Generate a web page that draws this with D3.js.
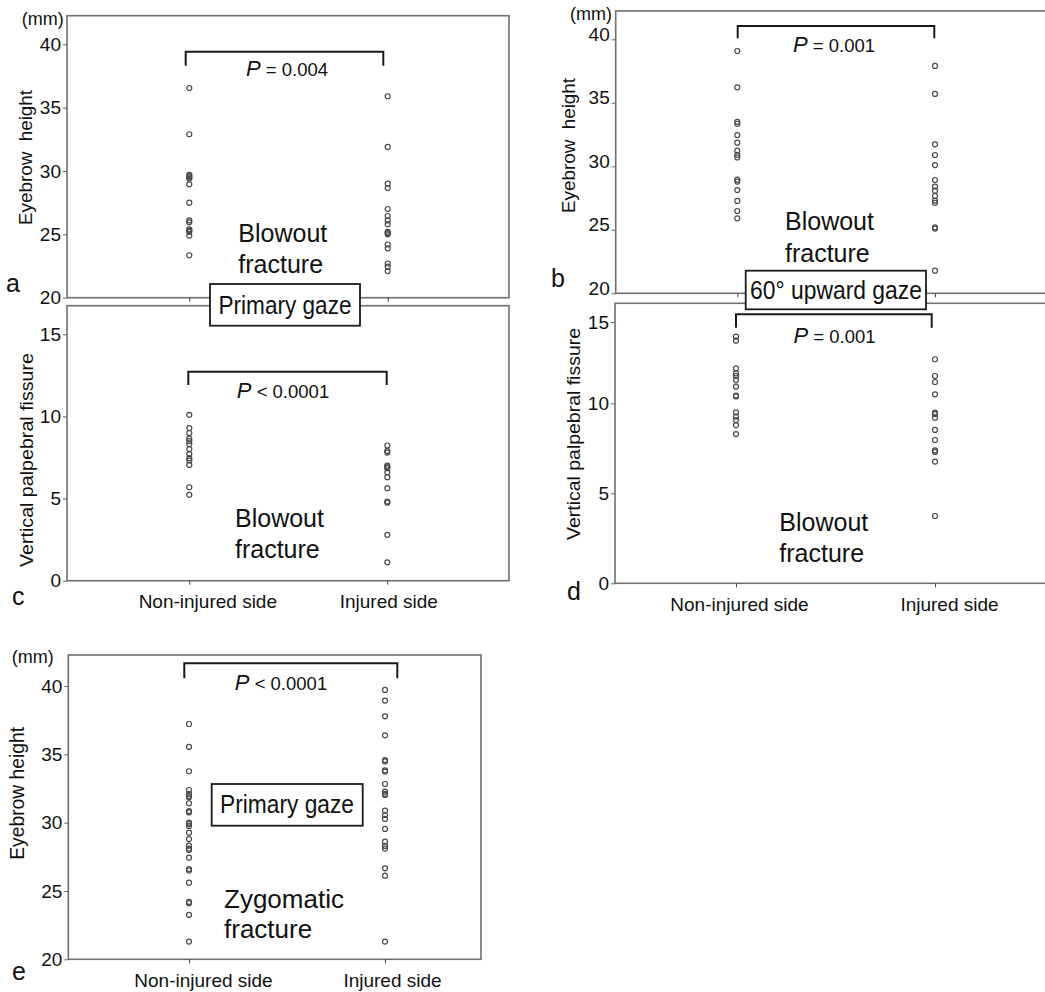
<!DOCTYPE html>
<html><head><meta charset="utf-8">
<script src="https://cdn.jsdelivr.net/npm/d3@7/dist/d3.min.js"></script>
<style>
body{margin:0;background:#fff}
text{font-family:"Liberation Sans",Arial,sans-serif;fill:#111}
</style>
</head><body>
<svg id="chart" width="1045" height="992"></svg>
<script>
// ---------- data ----------
const categories = ["Non-injured side", "Injured side"];
const eyebrowTicks = [20, 25, 30, 35, 40];
const fissureTicks = [0, 5, 10, 15];

const aNonInjured = [36.55, 32.9, 29.7, 29.6, 29.5, 29.4, 28.95, 27.5, 26.1, 25.95, 25.4, 25.3, 25.2, 24.9, 23.35];
const aInjured    = [35.9, 31.9, 29.0, 28.65, 27.0, 26.45, 26.1, 25.8, 25.2, 25.1, 25.0, 24.2, 23.9, 22.7, 22.45, 22.1];
const bNonInjured = [39.08, 36.22, 33.5, 33.35, 32.46, 31.86, 31.23, 30.9, 30.7, 28.95, 28.8, 28.13, 27.27, 26.48, 25.9];
const bInjured    = [37.9, 35.7, 31.73, 30.89, 30.1, 28.92, 28.4, 28.08, 27.66, 27.3, 27.13, 25.2, 25.1, 21.78];
const cNonInjured = [10.1, 9.29, 8.99, 8.65, 8.5, 8.32, 8.01, 7.71, 7.46, 7.32, 7.05, 5.69, 5.23];
const cInjured    = [8.23, 7.9, 7.8, 7.0, 6.92, 6.85, 6.6, 6.3, 5.63, 4.82, 4.75, 2.79, 1.12];
const dNonInjured = [14.1, 13.85, 12.15, 11.84, 11.68, 11.43, 11.02, 10.48, 10.42, 9.5, 9.26, 9.07, 8.79, 8.29];
const dInjured    = [12.71, 11.68, 11.31, 10.55, 9.48, 9.4, 9.2, 8.52, 7.96, 7.38, 7.3, 6.76, 3.74];
const eNonInjured = [37.22, 35.54, 33.76, 32.39, 32.1, 31.95, 31.85, 31.42, 30.85, 30.75, 30.0, 29.9, 29.76, 29.27, 28.8, 28.32, 28.1, 28.0, 27.44, 26.6, 26.5, 25.61, 24.2, 24.1, 23.25, 21.3];
const eInjured    = [39.71, 38.93, 37.78, 36.39, 34.58, 34.48, 33.82, 33.74, 32.83, 32.27, 32.1, 32.03, 30.88, 30.56, 30.27, 29.54, 28.61, 28.3, 28.1, 26.66, 26.12, 21.3];

const pLabels = ["= 0.004", "= 0.001", "< 0.0001", "= 0.001", "< 0.0001"];

// ---------- layout ----------
const svg = d3.select("#chart");
svg.append("rect").attr("width", 1045).attr("height", 992).attr("fill", "#fff");

const panels = [
  { id: "a", series: [aNonInjured, aInjured], ticks: eyebrowTicks, yd: [20, 40], yr: [297.7, 44.3],
    fx: [67, 509], fy: [15.7, 297.7], xr: [189.3, 387.7], xlab: false, tickDy: 0,
    title: "Eyebrow  height", tc: [25, 157.5], tl: 135, tfs: 19, mm: [21.7, 25],
    br: { x: [185.7, 383.3], y: 51.7, leg: 65.7 }, p: { x: 287, y: 76, t: pLabels[0] },
    note: { x: 238.3, y: [241.7, 272.7], t: ["Blowout", "fracture"], fs: 25 },
    letter: { t: "a", x: 6, y: 291.5 } },
  { id: "b", series: [bNonInjured, bInjured], ticks: eyebrowTicks, yd: [20, 40], yr: [293.3, 39.3],
    fx: [615.7, 1046], fy: [11, 293.3], xr: [737.3, 935], xlab: false, tickDy: -5,
    title: "Eyebrow  height", tc: [568, 145.5], tl: 135, tfs: 19, mm: [570, 20],
    br: { x: [737.7, 934.3], y: 26, leg: 38.3 }, p: { x: 834, y: 51.7, t: pLabels[1] },
    note: { x: 785, y: [230, 261.7], t: ["Blowout", "fracture"], fs: 25 },
    letter: { t: "b", x: 551, y: 286.5 } },
  { id: "c", series: [cNonInjured, cInjured], ticks: fissureTicks, yd: [0, 15], yr: [580.7, 334.3],
    fx: [67, 509], fy: [305.7, 580.7], xr: [189.3, 387.3], xlab: true, xdx: [18, 1], tickDy: 0,
    title: "Vertical palpebral fissure", tc: [26.7, 460], tl: 214, tfs: 19,
    br: { x: [188.3, 386.7], y: 371.7, leg: 385 }, p: { x: 283, y: 398.3, t: pLabels[2] },
    note: { x: 235, y: [526.7, 557.7], t: ["Blowout", "fracture"], fs: 25 },
    letter: { t: "c", x: 12, y: 605 } },
  { id: "d", series: [dNonInjured, dInjured], ticks: fissureTicks, yd: [0, 10, 15], yr: [583.3, 403.3, 322],
    fx: [615, 1046], fy: [303.3, 583.3], xr: [736, 935], xlab: true, xdx: [3, 14], tickDy: 0,
    title: "Vertical palpebral fissure", tc: [573, 434], tl: 212, tfs: 19,
    br: { x: [736, 931.7], y: 314.3, leg: 327.7 }, p: { x: 834.5, y: 343.3, t: pLabels[3] },
    note: { x: 779.3, y: [530.7, 561.7], t: ["Blowout", "fracture"], fs: 25 },
    letter: { t: "d", x: 567, y: 600 } },
  { id: "e", series: [eNonInjured, eInjured], ticks: eyebrowTicks, yd: [20, 40], yr: [959.3, 686],
    fx: [68.3, 481], fy: [655, 959.3], xr: [189, 385], xlab: true, xdx: [14, 7], tickDy: 0,
    title: "Eyebrow height", tc: [17.3, 793.3], tl: 133, tfs: 20, mm: [11.7, 663.3],
    br: { x: [184.3, 397.3], y: 663.3, leg: 678.3 }, p: { x: 281, y: 690, t: pLabels[4] },
    note: { x: 224, y: [908.3, 938.3], t: ["Zygomatic", "fracture"], fs: 26 },
    letter: { t: "e", x: 12, y: 980 } }
];

function drawPanel(p) {
  const g = svg.append("g").attr("class", "panel-" + p.id);
  const x = d3.scalePoint().domain(categories).range(p.xr);
  const y = d3.scaleLinear().domain(p.yd).range(p.yr);

  // frame
  g.append("rect")
    .attr("x", p.fx[0]).attr("y", p.fy[0])
    .attr("width", p.fx[1] - p.fx[0]).attr("height", p.fy[1] - p.fy[0])
    .attr("fill", "none").attr("stroke", "#6f6f6f").attr("stroke-width", 1.6);

  // y axis
  const ya = g.append("g").attr("transform", `translate(${p.fx[0]},0)`)
    .call(d3.axisLeft(y).tickValues(p.ticks).tickSize(4).tickPadding(2).tickFormat(d3.format("d")));
  ya.select(".domain").remove();
  ya.selectAll(".tick line").attr("stroke", "#666");
  ya.selectAll(".tick text").attr("font-size", 19).attr("fill", "#111")
    .attr("font-family", "Liberation Sans, Arial, sans-serif")
    .attr("transform", `translate(0,${p.tickDy})`);

  // x axis
  const xa = g.append("g").attr("transform", `translate(0,${p.fy[1]})`)
    .call(d3.axisBottom(x).tickSize(4).tickPadding(10).tickFormat(p.xlab ? (d => d) : () => ""));
  xa.select(".domain").remove();
  xa.selectAll(".tick line").attr("stroke", "#444");
  xa.selectAll(".tick text").attr("font-size", 19).attr("fill", "#111")
    .attr("font-family", "Liberation Sans, Arial, sans-serif")
    .attr("dx", (d, i) => p.xdx ? p.xdx[i] : 0);

  // y title
  g.append("text")
    .attr("transform", `translate(${p.tc[0]},${p.tc[1]}) rotate(-90)`)
    .attr("text-anchor", "middle").attr("dy", "0.35em")
    .attr("font-size", p.tfs)
    .attr("textLength", p.tl).attr("lengthAdjust", "spacingAndGlyphs")
    .style("white-space", "pre")
    .text(p.title);

  if (p.mm) {
    g.append("text").attr("x", p.mm[0]).attr("y", p.mm[1]).attr("font-size", 18).text("(mm)");
  }

  // points
  p.series.forEach((vals, i) => {
    g.append("g").selectAll("circle").data(vals).join("circle")
      .attr("cx", x(categories[i]))
      .attr("cy", d => y(d))
      .attr("r", 2.5)
      .attr("fill", "none")
      .attr("stroke", "#4a4a4a")
      .attr("stroke-width", 1.2);
  });

  // bracket
  g.append("path")
    .attr("d", `M${p.br.x[0]},${p.br.leg}V${p.br.y}H${p.br.x[1]}V${p.br.leg}`)
    .attr("fill", "none").attr("stroke", "#1a1a1a").attr("stroke-width", 2);
  const pt = g.append("text").attr("x", p.p.x).attr("y", p.p.y).attr("text-anchor", "middle");
  pt.append("tspan").attr("font-style", "italic").attr("font-size", 22).text("P");
  pt.append("tspan").attr("font-size", 18.5).text(" " + p.p.t);

  // note text
  p.note.t.forEach((t, i) => {
    g.append("text").attr("x", p.note.x).attr("y", p.note.y[i]).attr("font-size", p.note.fs).text(t);
  });

  // panel letter
  g.append("text").attr("x", p.letter.x).attr("y", p.letter.y).attr("font-size", 25)
    .attr("font-family", "Open Sans, Liberation Sans, sans-serif").text(p.letter.t);
}

panels.forEach(drawPanel);

// gaze boxes
const boxes = [
  { x: 210, y: 284, w: 150, h: 41.7, t: "Primary gaze", tx: 285, ty: 314, tl: 133 },
  { x: 745.7, y: 270.7, w: 180.3, h: 38.6, t: "60° upward gaze", tx: 836, ty: 298.5, tl: 172 },
  { x: 211.7, y: 784, w: 151, h: 41.7, t: "Primary gaze", tx: 287, ty: 813.3, tl: 134 }
];
boxes.forEach(b => {
  const g = svg.append("g");
  g.append("rect").attr("x", b.x).attr("y", b.y).attr("width", b.w).attr("height", b.h)
    .attr("fill", "#fff").attr("stroke", "#1a1a1a").attr("stroke-width", 1.8);
  g.append("text").attr("x", b.tx).attr("y", b.ty).attr("text-anchor", "middle")
    .attr("font-size", 26).attr("textLength", b.tl).attr("lengthAdjust", "spacingAndGlyphs").text(b.t);
});
</script>
</body></html>
